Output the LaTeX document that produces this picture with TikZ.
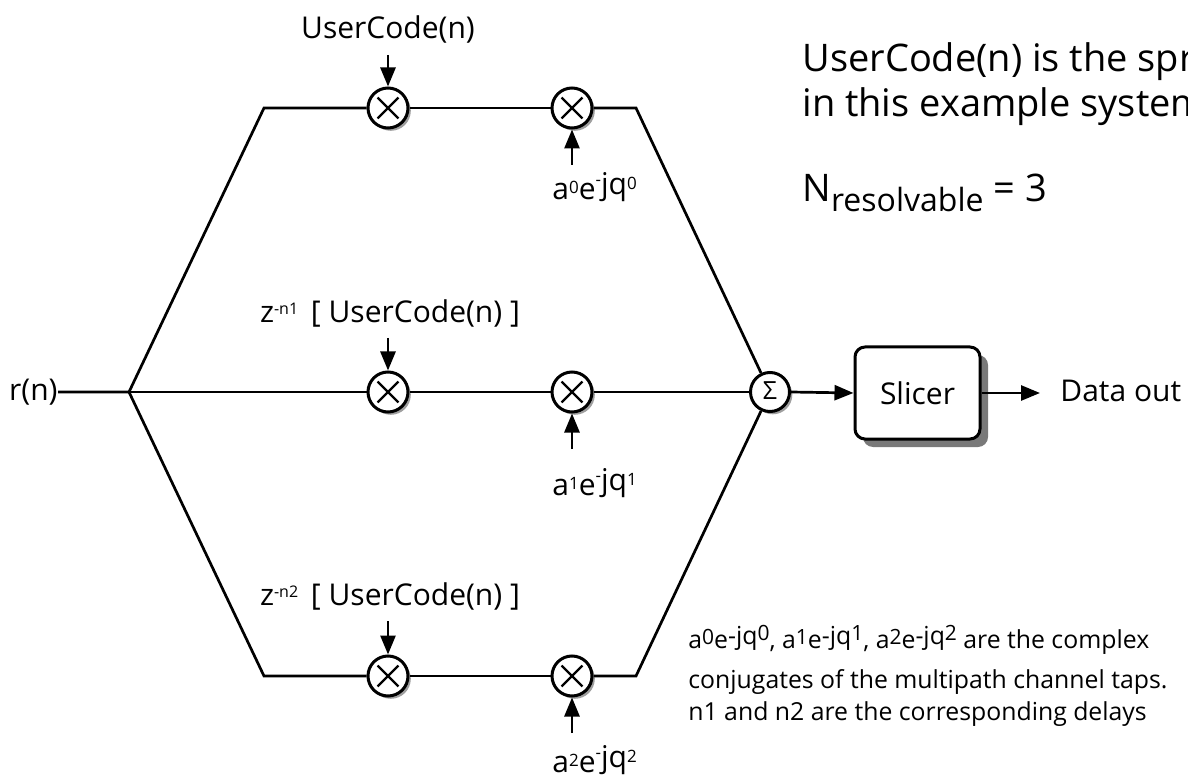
\documentclass[tikz,border=0pt]{standalone}
\usepackage{fontspec}
\setmainfont{Open Sans}
\usetikzlibrary{arrows.meta,shadows}
\newcommand\lblfont{\fontsize{15}{18}\selectfont}
\newcommand\bigfont{\fontsize{19}{23}\selectfont}
\newcommand\notefont{\fontsize{12.4}{14}\selectfont}
\newcommand\smdig{\fontsize{8.5}{9}\selectfont}
\newcommand\ntdig{\fontsize{10.5}{11}\selectfont}
\newcommand\tapl[1]{a\raisebox{3pt}{\smdig #1}e\raisebox{7pt}{\smdig -}\raisebox{2.5pt}{jq\raisebox{2.5pt}{\smdig #1}}}
\newcommand\tapn[1]{a\raisebox{2pt}{\ntdig #1}e\raisebox{2pt}{-jq}\raisebox{4pt}{\ntdig #1}}
\newcommand\zlab[1]{z\raisebox{4pt}{\fontsize{8}{8}\selectfont -n#1}\ \,[ UserCode(n) ]}
\begin{document}
\begin{tikzpicture}[x=0.5pt,y=-0.5pt,
  wire/.style={line width=1.35pt},
  arr/.style={line width=1.35pt,-{Triangle[length=9.5pt,width=7.5pt]}},
  mult/.style={circle,draw,line width=1.5pt,fill=white,minimum size=20pt,inner sep=0pt,
    drop shadow={shadow xshift=1.4pt,shadow yshift=-1.4pt,fill=gray!75,opacity=1},
    path picture={\draw[line width=1.2pt]
      ([shift={(-5.2pt,-5.2pt)}]path picture bounding box.center) -- ([shift={(5.2pt,5.2pt)}]path picture bounding box.center)
      ([shift={(-5.2pt,5.2pt)}]path picture bounding box.center) -- ([shift={(5.2pt,-5.2pt)}]path picture bounding box.center);}},
  sumc/.style={circle,draw,line width=1.5pt,fill=white,minimum size=19.5pt,inner sep=0pt,
    font=\fontsize{12.5}{12}\selectfont,
    drop shadow={shadow xshift=1.4pt,shadow yshift=-1.4pt,fill=gray!75,opacity=1}},
  blk/.style={draw,line width=1.5pt,rounded corners=5pt,fill=white,minimum width=62.5pt,minimum height=46pt,
    font=\lblfont,drop shadow={shadow xshift=4pt,shadow yshift=-4pt,fill=gray!95!black,opacity=1}},
  lbl/.style={inner sep=0pt,font=\lblfont},
  note/.style={inner sep=0pt,font=\notefont,anchor=base west},
  big/.style={inner sep=0pt,font=\bigfont,anchor=base west}]
\useasboundingbox (0,0) rectangle (1188,780);
\fill[white] (0,0) rectangle (1188,780);
\clip (0,0) rectangle (1188,780);

% junction points
\coordinate (split) at (129,392);
\coordinate (tl) at (264,108);
\coordinate (bl) at (264,676);
\coordinate (tr) at (636,108);
\coordinate (br) at (636,676);

% multipliers and summer
\node[mult] (m01) at (388,108) {};
\node[mult] (m02) at (572,108) {};
\node[mult] (m11) at (388,392) {};
\node[mult] (m12) at (572,392) {};
\node[mult] (m21) at (388,676) {};
\node[mult] (m22) at (572,676) {};
\node[sumc] (sum) at (770,392) {\raisebox{1pt}{Σ}};
\node[blk] (slicer) at (917.5,393) {Slicer};

% input / output labels
\node[lbl,anchor=east] (rn) at (58,392) {r(n)};
\node[lbl,anchor=base west] (dout) at (1060,401) {Data out};
\coordinate (dtip) at (1040,393);

% wires
\draw[wire] (rn.east) -- (split) -- (tl) -- (m01);
\draw[wire] (m01) -- (m02);
\draw[wire] (m02) -- (tr) -- (sum);
\draw[wire] (split) -- (m11);
\draw[wire] (m11) -- (m12);
\draw[wire] (m12) -- (sum);
\draw[wire] (split) -- (bl) -- (m21);
\draw[wire] (m21) -- (m22);
\draw[wire] (m22) -- (br) -- (sum);
\draw[arr] (sum.east) -- (slicer.west);
\draw[arr] (slicer.east) -- (dtip);

% code inputs
\node[lbl,anchor=base] (uc0) at (388,39) {UserCode(n)};
\coordinate (in01) at (388,55);
\draw[arr] (in01) -- (m01);
\node[lbl,anchor=base] (uc1) at (390,323) {\zlab{1}};
\coordinate (in11) at (388,338);
\draw[arr] (in11) -- (m11);
\node[lbl,anchor=base] (uc2) at (390,605) {\zlab{2}};
\coordinate (in21) at (388,621);
\draw[arr] (in21) -- (m21);

% tap inputs
\coordinate (in02) at (572,165);
\draw[arr] (in02) -- (m02);
\node[lbl,anchor=base west] (t0) at (552,200) {\tapl{0}};
\coordinate (in12) at (572,449);
\draw[arr] (in12) -- (m12);
\node[lbl,anchor=base west] (t1) at (552,495) {\tapl{1}};
\coordinate (in22) at (572,733);
\draw[arr] (in22) -- (m22);
\node[lbl,anchor=base west] (t2) at (552,772) {\tapl{2}};

% explanatory text
\node[big] (txt1) at (802,72) {UserCode(n) is the spr};
\node[big] (txt2) at (802,117) {in this example system};
\node[big] (txt3) at (802,202) {N\raisebox{-5pt}{\fontsize{16}{16}\selectfont resolvable} = 3};
\node[note] (nt1) at (688,648) {\tapn{0}, \tapn{1}, \tapn{2} are the complex};
\node[note] (nt2) at (688,688) {conjugates of the multipath channel taps.};
\node[note] (nt3) at (688,720) {n1 and n2 are the corresponding delays};
\end{tikzpicture}
\end{document}
